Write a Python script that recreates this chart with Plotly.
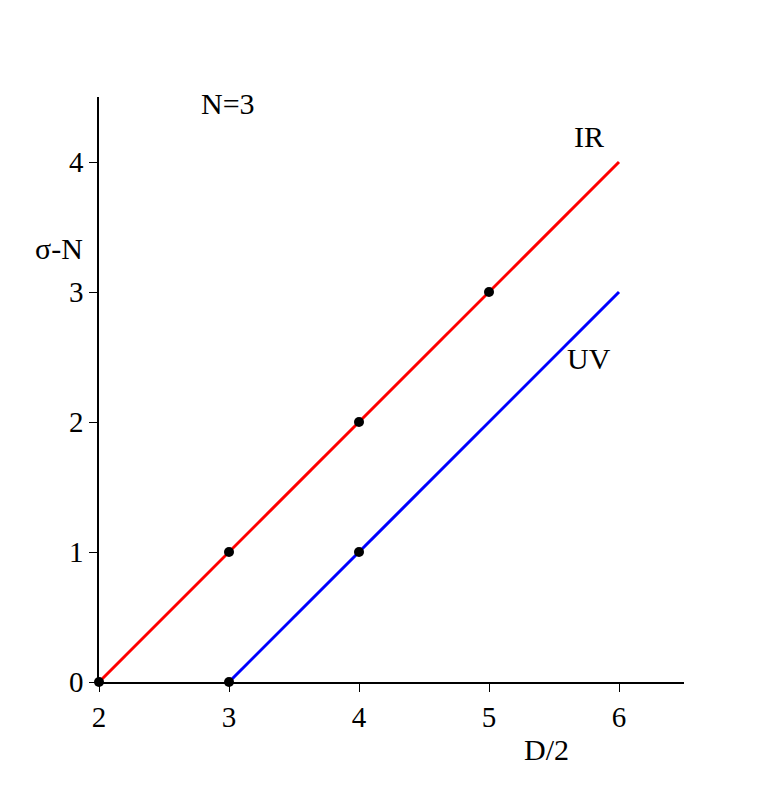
import plotly.graph_objects as go

ir_x = [2, 6]; ir_y = [0, 4]
uv_x = [3, 6]; uv_y = [0, 3]
pts_x = [2, 3, 4, 5, 3, 4]
pts_y = [0, 1, 2, 3, 0, 1]
xticks = [2, 3, 4, 5, 6]
yticks = [0, 1, 2, 3, 4]

F = "Liberation Serif"
fig = go.Figure()
fig.add_trace(go.Scatter(x=ir_x, y=ir_y, mode="lines", line=dict(color="#ff0000", width=3)))
fig.add_trace(go.Scatter(x=uv_x, y=uv_y, mode="lines", line=dict(color="#0000ff", width=3)))
fig.add_trace(go.Scatter(x=pts_x, y=pts_y, mode="markers", marker=dict(color="black", size=10), cliponaxis=False))

ax = dict(showgrid=False, zeroline=False, showline=True, linecolor="black", linewidth=1.5,
          ticks="outside", ticklen=8, tickcolor="black", tickfont=dict(family=F, size=29, color="black"))
fig.update_xaxes(range=[2, 6.5], tickvals=xticks, **ax)
fig.update_yaxes(range=[0, 4.5], tickvals=yticks, **ax)

def ann(t, x, y):
    fig.add_annotation(text=t, x=x, y=y, xref="paper", yref="paper", showarrow=False,
                       font=dict(family=F, size=30, color="black"))
W, H = 585, 585
def px(xp, yp):
    return (xp - 98) / W, (682 - yp) / H
for t, (a, b) in [("N=3", (198, 85)), ("IR", (605, 118)), ("UV", (612, 358)),
                  ("σ-N", (32, 230)), ("D/2", (570, 768))]:
    ann(t, *px(a, b))

fig.update_layout(width=767, height=800, margin=dict(l=91, r=91, t=89, b=126),
                  plot_bgcolor="white", paper_bgcolor="white", showlegend=False)
fig.write_html("out.html")
